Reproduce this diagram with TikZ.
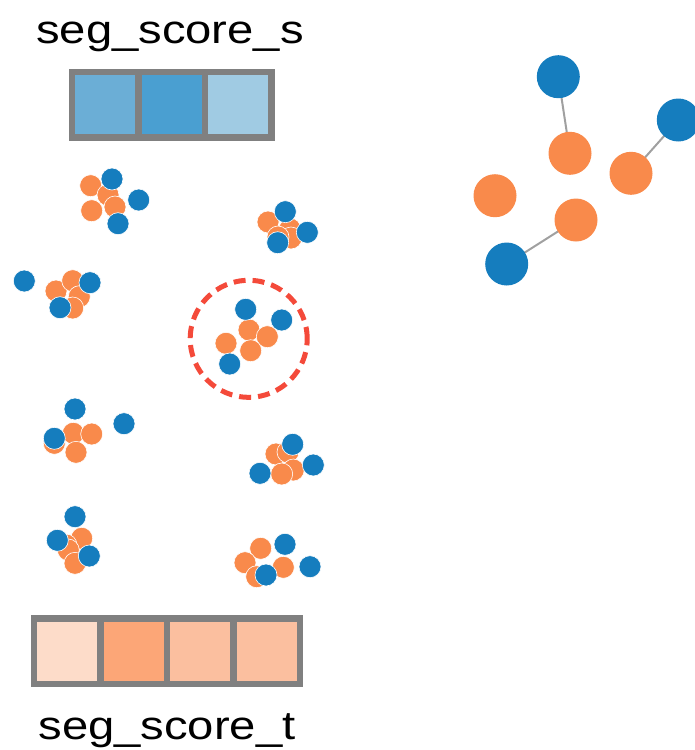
\documentclass[tikz,border=0pt]{standalone}
\usepackage{fontspec}
\setmainfont{Liberation Sans}
\usetikzlibrary{backgrounds}
\definecolor{dblue}{HTML}{157DBE}
\definecolor{dorange}{HTML}{F98A4B}
\definecolor{boxgray}{HTML}{808080}
\definecolor{edgegray}{HTML}{A0A0A0}
\definecolor{ringred}{HTML}{F44A3A}
\definecolor{sA}{HTML}{6BAED6}
\definecolor{sB}{HTML}{4A9FD1}
\definecolor{sC}{HTML}{A0CBE3}
\definecolor{tA}{HTML}{FDDCC9}
\definecolor{tB}{HTML}{FCA677}
\definecolor{tC}{HTML}{FBBF9F}
\tikzset{
  od/.style={circle, fill=dorange, draw=white, line width=0.6pt, minimum size=22pt, inner sep=0pt},
  bd/.style={circle, fill=dblue, draw=white, line width=0.6pt, minimum size=22pt, inner sep=0pt},
  obig/.style={circle, fill=dorange, minimum size=43pt, inner sep=0pt},
  bbig/.style={circle, fill=dblue, minimum size=43pt, inner sep=0pt},
  gedge/.style={draw=edgegray, line width=2pt},
  cell/.style={draw=boxgray, line width=6.5pt, minimum width=66.5pt, minimum height=65.5pt, inner sep=0pt, outer sep=0pt, anchor=north west},
  lbl/.style={anchor=base, inner sep=0pt, font=\fontsize{40}{48}\selectfont},
  ring/.style={draw=ringred, line width=5pt, dash pattern=on 12pt off 7pt, circle, minimum size=117pt, inner sep=0pt}
}
\begin{document}
\begin{tikzpicture}[x=1pt,y=-1pt]
\useasboundingbox (0,0) rectangle (695,750);
% labels
\node[lbl] (ls) at (170,43.3) {\scalebox{1.18}[1]{seg\_score\_s}};
\node[lbl] (lt) at (167,739.3) {\scalebox{1.18}[1]{seg\_score\_t}};
% top score bar
\node[cell, fill=sA] (s1) at (71.75,71.75) {};
\node[cell, fill=sB] (s2) at (138.25,71.75) {};
\node[cell, fill=sC] (s3) at (204.75,71.75) {};
% bottom score bar
\node[cell, fill=tA] (t1) at (33.75,618.5) {};
\node[cell, fill=tB] (t2) at (100.25,618.5) {};
\node[cell, fill=tC] (t3) at (166.75,618.5) {};
\node[cell, fill=tC] (t4) at (233.25,618.5) {};
% cluster A
\node[od] (a1) at (90.7,185.7) {};
\node[od] (a2) at (108,195) {};
\node[od] (a3) at (115,207) {};
\node[od] (a4) at (91.7,210.7) {};
\node[bd] (a5) at (112,179) {};
\node[bd] (a6) at (138.7,200) {};
\node[bd] (a7) at (118,223.7) {};
% cluster B
\node[od] (b1) at (268,222) {};
\node[od] (b2) at (290,229) {};
\node[od] (b3) at (291,238) {};
\node[od] (b4) at (278,237) {};
\node[bd] (b5) at (285.3,211.7) {};
\node[bd] (b6) at (307.3,232.3) {};
\node[bd] (b7) at (277.7,242.7) {};
% cluster C
\node[od] (c1) at (56,291) {};
\node[od] (c2) at (72.7,280.7) {};
\node[od] (c3) at (79.3,296.7) {};
\node[od] (c4) at (72.7,308) {};
\node[bd] (c5) at (24.3,281) {};
\node[bd] (c6) at (90,282.7) {};
\node[bd] (c7) at (60,307.7) {};
% cluster D (circled)
\node[od] (d1) at (249,330) {};
\node[od] (d2) at (267.3,336.7) {};
\node[od] (d3) at (226,343.3) {};
\node[od] (d4) at (250.7,350.7) {};
\node[bd] (d5) at (245.7,309.3) {};
\node[bd] (d6) at (281.7,320) {};
\node[bd] (d7) at (229.7,364) {};
\node[ring] (ring) at (248.7,338.8) {};
% cluster E
\node[od] (e1) at (54.3,443.3) {};
\node[od] (e2) at (73.3,433.3) {};
\node[od] (e3) at (91.7,434) {};
\node[od] (e4) at (76,452.3) {};
\node[bd] (e5) at (75,409) {};
\node[bd] (e6) at (124,423.7) {};
\node[bd] (e7) at (54.3,438.3) {};
% cluster F
\node[od] (f1) at (276,454) {};
\node[od] (f2) at (288,452) {};
\node[od] (f3) at (293.3,470) {};
\node[od] (f4) at (281.7,474) {};
\node[bd] (f5) at (292.7,444.3) {};
\node[bd] (f6) at (313.3,465) {};
\node[bd] (f7) at (260,473.3) {};
% cluster G
\node[od] (g1) at (81.7,538.3) {};
\node[od] (g2) at (66,545) {};
\node[od] (g3) at (68.3,550) {};
\node[od] (g4) at (75,563.3) {};
\node[bd] (g5) at (75,516.7) {};
\node[bd] (g6) at (57.3,540.3) {};
\node[bd] (g7) at (89.3,556) {};
% cluster H
\node[od] (h1) at (260.7,548.3) {};
\node[od] (h2) at (245,562.7) {};
\node[od] (h3) at (283.3,567.3) {};
\node[od] (h4) at (256.7,576.7) {};
\node[bd] (h5) at (285,544.3) {};
\node[bd] (h6) at (310,566.7) {};
\node[bd] (h7) at (266,575) {};
% right graph
\node[bbig] (n1) at (558.3,76.7) {};
\node[obig] (n2) at (570,153.3) {};
\node[bbig] (n3) at (678.3,120) {};
\node[obig] (n4) at (631,173.3) {};
\node[obig] (n5) at (495,195.7) {};
\node[obig] (n6) at (576,220) {};
\node[bbig] (n7) at (506.7,264) {};
\begin{scope}[on background layer]
\draw[gedge] (n1.center) -- (n2.center);
\draw[gedge] (n3.center) -- (n4.center);
\draw[gedge] (n7.center) -- (n6.center);
\end{scope}
\end{tikzpicture}
\end{document}
